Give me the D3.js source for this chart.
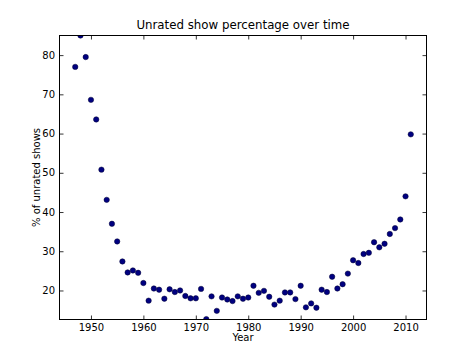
<!DOCTYPE html>
<html><head><meta charset="utf-8">
<script src="https://cdn.jsdelivr.net/npm/d3@7"></script>
<style>body{margin:0;background:#fff}svg{display:block}text{font-family:"DejaVu Sans",sans-serif}</style>
</head><body>
<svg id="c" width="474" height="355"></svg>
<script>
const years = d3.range(1947, 2012);
const values = [77.0, 85.0, 79.5, 68.6, 63.6, 50.8, 43.1, 37.0, 32.5, 27.4,
  24.6, 25.1, 24.5, 21.9, 17.4, 20.5, 20.2, 17.9, 20.3, 19.6,
  20.0, 18.6, 18.0, 18.0, 20.4, 12.7, 18.5, 14.8, 18.2, 17.7,
  17.3, 18.5, 17.9, 18.2, 21.2, 19.4, 19.9, 18.4, 16.4, 17.4,
  19.5, 19.5, 17.8, 21.2, 15.7, 16.7, 15.6, 20.2, 19.6, 23.5,
  20.5, 21.6, 24.3, 27.7, 27.0, 29.3, 29.6, 32.3, 31.0, 31.9,
  34.4, 35.9, 38.1, 44.0, 59.8];
const xTicks = [1950, 1960, 1970, 1980, 1990, 2000, 2010];
const yTicks = [20, 30, 40, 50, 60, 70, 80];
const title = "Unrated show percentage over time";
const xLabel = "Year";
const yLabel = "% of unrated shows";

const svg = d3.select("#c");
const L = 59.5, R = 426.5, T = 35.5, B = 319.5;
const x = d3.scaleLinear().domain([1944, 2014]).range([L, R]);
const y = d3.scaleLinear().domain([12.6, 85]).range([B, T]);

svg.append("defs").append("clipPath").attr("id", "clip")
  .append("rect").attr("x", L).attr("y", T).attr("width", R - L).attr("height", B - T);

svg.append("g").attr("clip-path", "url(#clip)")
  .selectAll("circle").data(years).join("circle")
  .attr("cx", d => x(d)).attr("cy", (d, i) => y(values[i]))
  .attr("r", 2.7).attr("fill", "#000080").attr("stroke", "#000030").attr("stroke-width", 0.5);

const tl = 4;
function styleAxis(g) {
  g.select(".domain").remove();
  g.selectAll("line").attr("stroke", "#000").attr("stroke-width", 0.8);
  g.selectAll("text").attr("font-size", 10).attr("fill", "#000");
}
svg.append("g").attr("transform", `translate(0,${B})`)
  .call(d3.axisBottom(x).tickValues(xTicks).tickFormat(d3.format("d")).tickSizeInner(-tl).tickPadding(4))
  .call(styleAxis);
svg.append("g").attr("transform", `translate(0,${T})`)
  .call(d3.axisTop(x).tickValues(xTicks).tickFormat("").tickSizeInner(-tl))
  .call(styleAxis);
svg.append("g").attr("transform", `translate(${L},0)`)
  .call(d3.axisLeft(y).tickValues(yTicks).tickSizeInner(-tl).tickPadding(4.5))
  .call(styleAxis);
svg.append("g").attr("transform", `translate(${R},0)`)
  .call(d3.axisRight(y).tickValues(yTicks).tickFormat("").tickSizeInner(-tl))
  .call(styleAxis);

svg.append("rect").attr("x", L).attr("y", T).attr("width", R - L).attr("height", B - T)
  .attr("fill", "none").attr("stroke", "#000").attr("stroke-width", 1);

svg.append("text").attr("x", (L + R) / 2).attr("y", 29).attr("text-anchor", "middle")
  .attr("font-size", 11.8).text(title);
svg.append("text").attr("x", (L + R) / 2).attr("y", 340.5).attr("text-anchor", "middle")
  .attr("font-size", 10).text(xLabel);
svg.append("text").attr("transform", `translate(40,${(T + B) / 2}) rotate(-90)`)
  .attr("text-anchor", "middle").attr("font-size", 10).text(yLabel);
</script>
</body></html>
